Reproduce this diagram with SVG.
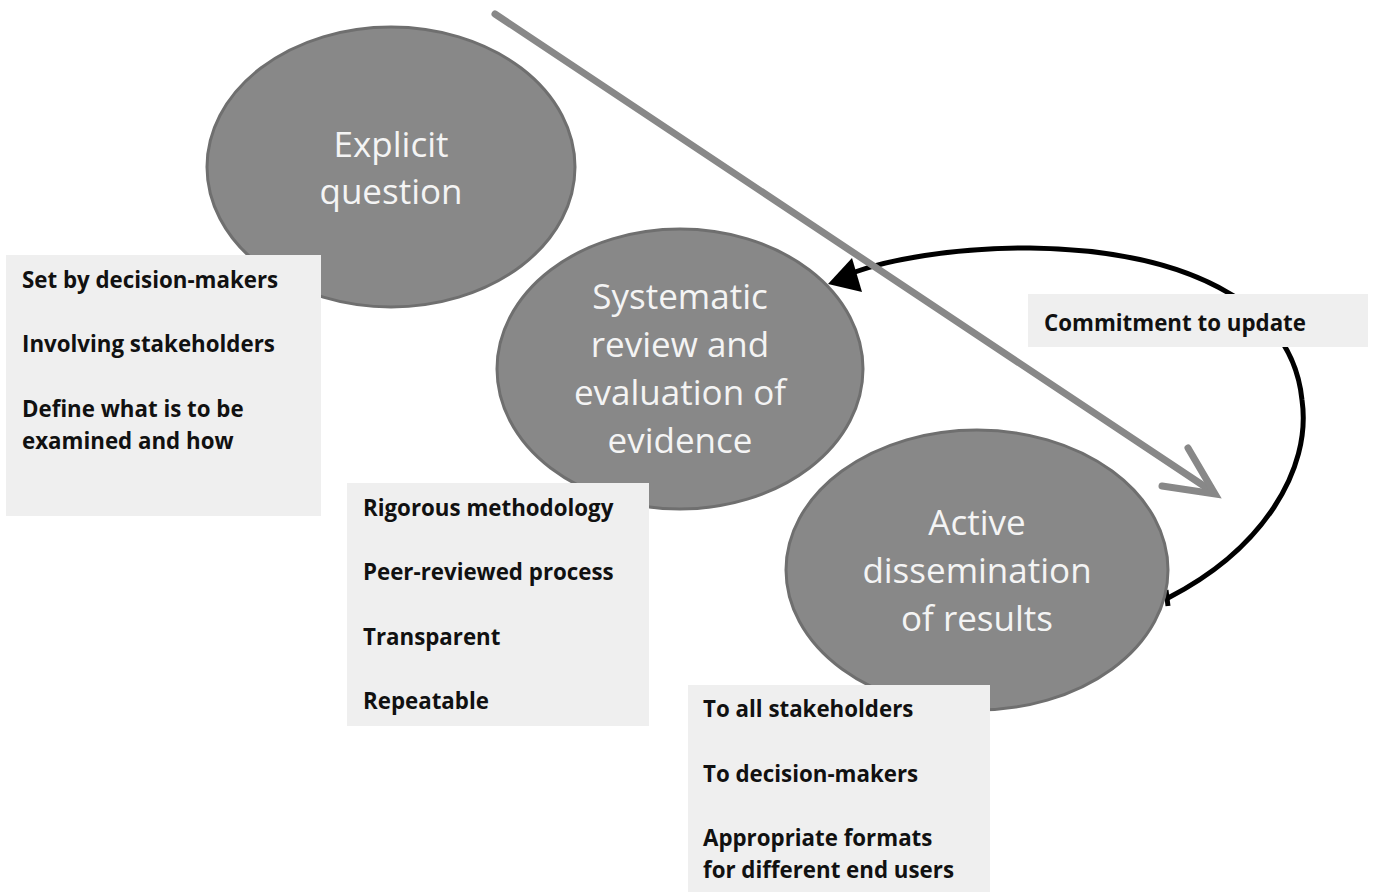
<svg xmlns="http://www.w3.org/2000/svg" width="1373" height="892" viewBox="0 0 1373 892">
<style>
.ell{fill:#888888;stroke:#6f6f6f;stroke-width:3}
.et{font-family:"Open Sans",Lato,sans-serif;font-size:35px;fill:#f4f4f4;text-anchor:middle}
.box{fill:#efefef}
.bt{font-family:"Open Sans",Lato,sans-serif;font-size:22.3px;font-weight:bold;fill:#111}
</style>
<g id="connectors">
<path d="M1168,598 C1262,550 1312,470 1302,400 C1292,300 1180,250 1030,248 C950,248 888,260 855,272" fill="none" stroke="#000" stroke-width="5"/>
<path d="M852,258 L828,284 L862,292 Z" fill="#000"/>
<path d="M1166,590 L1168,606" stroke="#000" stroke-width="5"/>
<path d="M495,14 L1210,490" stroke="#888" stroke-width="7" stroke-linecap="round"/>
<path d="M1188,448 L1215,494 L1162,486" fill="none" stroke="#888" stroke-width="7" stroke-linecap="round" stroke-linejoin="miter"/>
</g>
<g id="node-explicit">
<ellipse class="ell" cx="391" cy="167" rx="184" ry="140"/>
<text class="et" x="391" y="157">Explicit</text>
<text class="et" x="391" y="204">question</text>
</g>
<g id="node-systematic">
<ellipse class="ell" cx="680" cy="369" rx="183" ry="140"/>
<text class="et" x="680" y="309">Systematic</text>
<text class="et" x="680" y="357">review and</text>
<text class="et" x="680" y="405">evaluation of</text>
<text class="et" x="680" y="453">evidence</text>
</g>
<g id="node-active">
<ellipse class="ell" cx="977" cy="570" rx="191" ry="140"/>
<text class="et" x="977" y="535">Active</text>
<text class="et" x="977" y="583">dissemination</text>
<text class="et" x="977" y="631">of results</text>
</g>
<g id="box-explicit">
<rect class="box" x="6" y="255" width="315" height="261"/>
<text class="bt" x="22" y="288">Set by decision-makers</text>
<text class="bt" x="22" y="352">Involving stakeholders</text>
<text class="bt" x="22" y="417">Define what is to be</text>
<text class="bt" x="22" y="449">examined and how</text>
</g>
<g id="box-systematic">
<rect class="box" x="347" y="483" width="302" height="243"/>
<text class="bt" x="363" y="516">Rigorous methodology</text>
<text class="bt" x="363" y="580">Peer-reviewed process</text>
<text class="bt" x="363" y="645">Transparent</text>
<text class="bt" x="363" y="709">Repeatable</text>
</g>
<g id="box-active">
<rect class="box" x="688" y="685" width="302" height="207"/>
<text class="bt" x="703" y="717">To all stakeholders</text>
<text class="bt" x="703" y="782">To decision-makers</text>
<text class="bt" x="703" y="846">Appropriate formats</text>
<text class="bt" x="703" y="878">for different end users</text>
</g>
<g id="box-commitment">
<rect class="box" x="1028" y="294" width="340" height="53"/>
<text class="bt" x="1044" y="331">Commitment to update</text>
</g>
</svg>
